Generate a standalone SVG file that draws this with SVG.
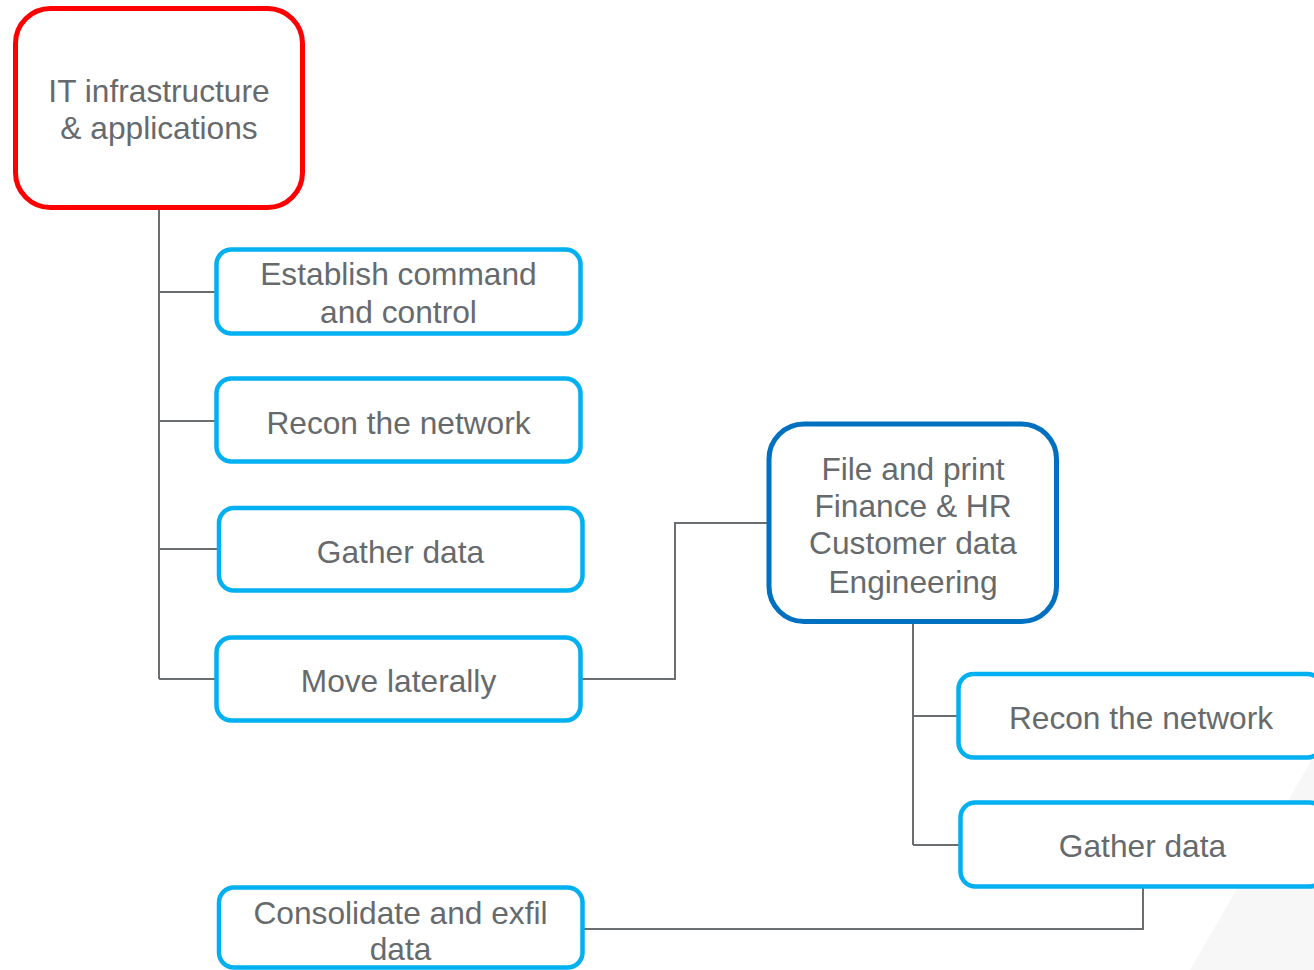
<svg xmlns="http://www.w3.org/2000/svg" width="1314" height="970" viewBox="0 0 1314 970">
<style>
.bg{fill:#f7f7f7}
.box{fill:#ffffff;stroke:#00b0f0;stroke-width:4.5}
.root{fill:#ffffff;stroke:#ff0000;stroke-width:5}
.hub{fill:#ffffff;stroke:#0070c0;stroke-width:5}
.lbl{font-family:"Liberation Sans",Arial,sans-serif;font-size:31.7px;fill:#666a6d;text-anchor:middle}
.con{fill:none;stroke:#6b6e71;stroke-width:2}
</style>
<rect width="1314" height="970" fill="#ffffff"/>
<polygon class="bg" points="1314,756 1190,970 1314,970"/>
<g id="connectors">
<path class="con" d="M159,208 V679"/>
<path class="con" d="M159,292 H217"/>
<path class="con" d="M159,421 H217"/>
<path class="con" d="M159,549 H219"/>
<path class="con" d="M159,679 H217"/>
<path class="con" d="M581,679 H675 V523 H769"/>
<path class="con" d="M913,622 V845"/>
<path class="con" d="M913,716 H958"/>
<path class="con" d="M913,845 H960"/>
<path class="con" d="M1143,887 V929 H583"/>
</g>
<g id="node-it">
<rect class="root" x="15.5" y="8.5" width="287" height="199" rx="35"/>
<text class="lbl" x="159" y="102">IT infrastructure</text>
<text class="lbl" x="159" y="139">&amp; applications</text>
</g>
<g id="node-c2">
<rect class="box" x="216.5" y="249.5" width="364" height="84" rx="15"/>
<text class="lbl" x="398.5" y="285">Establish command</text>
<text class="lbl" x="398.5" y="322.5">and control</text>
</g>
<g id="node-recon1">
<rect class="box" x="216.5" y="378.5" width="364" height="83" rx="15"/>
<text class="lbl" x="398.5" y="434">Recon the network</text>
</g>
<g id="node-gather1">
<rect class="box" x="219" y="508" width="363.5" height="82.5" rx="15"/>
<text class="lbl" x="400.5" y="562.5">Gather data</text>
</g>
<g id="node-move">
<rect class="box" x="216.5" y="637.5" width="364" height="83" rx="15"/>
<text class="lbl" x="398.5" y="691.5">Move laterally</text>
</g>
<g id="node-targets">
<rect class="hub" x="769" y="424" width="287.5" height="197.5" rx="35"/>
<text class="lbl" x="913" y="479.5">File and print</text>
<text class="lbl" x="913" y="516.5">Finance &amp; HR</text>
<text class="lbl" x="913" y="553.5">Customer data</text>
<text class="lbl" x="913" y="592.5">Engineering</text>
</g>
<g id="node-recon2">
<rect class="box" x="958.5" y="674" width="364" height="83.5" rx="15"/>
<text class="lbl" x="1141" y="729">Recon the network</text>
</g>
<g id="node-gather2">
<rect class="box" x="960.5" y="802.5" width="364" height="84" rx="15"/>
<text class="lbl" x="1142.5" y="857">Gather data</text>
</g>
<g id="node-exfil">
<rect class="box" x="219" y="887.5" width="363.5" height="80" rx="15"/>
<text class="lbl" x="400.5" y="923.5">Consolidate and exfil</text>
<text class="lbl" x="400.5" y="960">data</text>
</g>
</svg>
